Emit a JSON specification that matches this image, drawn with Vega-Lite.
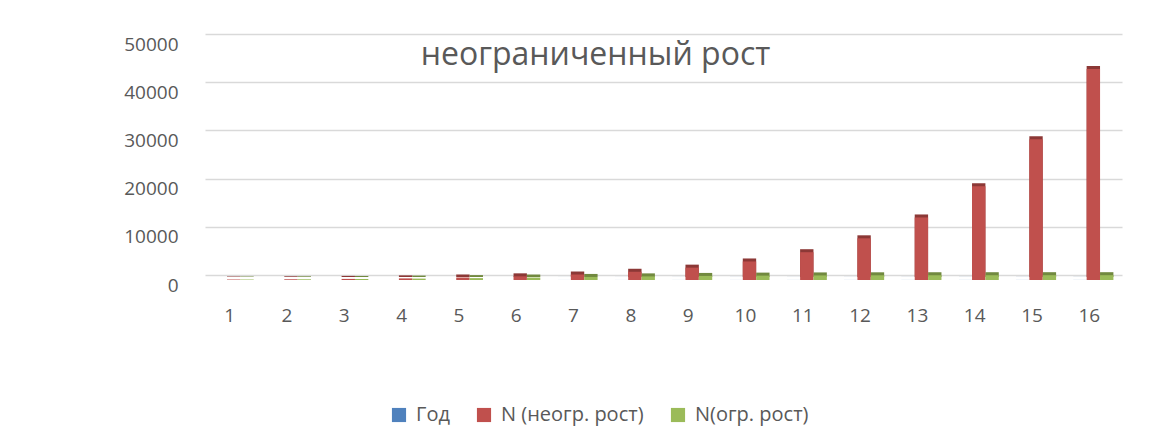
{
  "$schema": "https://vega.github.io/schema/vega-lite/v6.json",
  "autosize": {"type": "none"},
  "padding": {"left": 205, "top": 34, "right": 49, "bottom": 171},
  "width": 917,
  "height": 241,
  "background": "white",
  "title": {
    "text": "неограниченный рост",
    "font": "Open Sans",
    "fontSize": 32,
    "fontWeight": "normal",
    "color": "#595959",
    "anchor": "middle",
    "dx": -68,
    "offset": -63,
    "baseline": "alphabetic"
  },
  "data": {
    "values": [
      {"year": 1, "series": "Год", "value": 1},
      {"year": 2, "series": "Год", "value": 2},
      {"year": 3, "series": "Год", "value": 3},
      {"year": 4, "series": "Год", "value": 4},
      {"year": 5, "series": "Год", "value": 5},
      {"year": 6, "series": "Год", "value": 6},
      {"year": 7, "series": "Год", "value": 7},
      {"year": 8, "series": "Год", "value": 8},
      {"year": 9, "series": "Год", "value": 9},
      {"year": 10, "series": "Год", "value": 10},
      {"year": 11, "series": "Год", "value": 11},
      {"year": 12, "series": "Год", "value": 12},
      {"year": 13, "series": "Год", "value": 13},
      {"year": 14, "series": "Год", "value": 14},
      {"year": 15, "series": "Год", "value": 15},
      {"year": 16, "series": "Год", "value": 16},
      {"year": 1, "series": "N (неогр. рост)", "value": 100},
      {"year": 2, "series": "N (неогр. рост)", "value": 150},
      {"year": 3, "series": "N (неогр. рост)", "value": 225},
      {"year": 4, "series": "N (неогр. рост)", "value": 337.5},
      {"year": 5, "series": "N (неогр. рост)", "value": 506.25},
      {"year": 6, "series": "N (неогр. рост)", "value": 759.38},
      {"year": 7, "series": "N (неогр. рост)", "value": 1139.06},
      {"year": 8, "series": "N (неогр. рост)", "value": 1708.59},
      {"year": 9, "series": "N (неогр. рост)", "value": 2562.89},
      {"year": 10, "series": "N (неогр. рост)", "value": 3844.34},
      {"year": 11, "series": "N (неогр. рост)", "value": 5766.5},
      {"year": 12, "series": "N (неогр. рост)", "value": 8649.76},
      {"year": 13, "series": "N (неогр. рост)", "value": 12974.63},
      {"year": 14, "series": "N (неогр. рост)", "value": 19461.95},
      {"year": 15, "series": "N (неогр. рост)", "value": 29192.93},
      {"year": 16, "series": "N (неогр. рост)", "value": 43789.39},
      {"year": 1, "series": "N(огр. рост)", "value": 100},
      {"year": 2, "series": "N(огр. рост)", "value": 145},
      {"year": 3, "series": "N(огр. рост)", "value": 207},
      {"year": 4, "series": "N(огр. рост)", "value": 289},
      {"year": 5, "series": "N(огр. рост)", "value": 392},
      {"year": 6, "series": "N(огр. рост)", "value": 511},
      {"year": 7, "series": "N(огр. рост)", "value": 636},
      {"year": 8, "series": "N(огр. рост)", "value": 752},
      {"year": 9, "series": "N(огр. рост)", "value": 845},
      {"year": 10, "series": "N(огр. рост)", "value": 910},
      {"year": 11, "series": "N(огр. рост)", "value": 951},
      {"year": 12, "series": "N(огр. рост)", "value": 974},
      {"year": 13, "series": "N(огр. рост)", "value": 987},
      {"year": 14, "series": "N(огр. рост)", "value": 993},
      {"year": 15, "series": "N(огр. рост)", "value": 997},
      {"year": 16, "series": "N(огр. рост)", "value": 998}
    ]
  },
  "encoding": {
    "x": {
      "field": "year",
      "type": "ordinal",
      "sort": "ascending",
      "scale": {"paddingInner": 0.3, "paddingOuter": 0.15},
      "axis": {
        "title": null,
        "domain": false,
        "ticks": false,
        "labelAngle": 0,
        "labelFont": "Open Sans",
        "labelFontSize": 19,
        "labelColor": "#595959",
        "labelPadding": 31,
        "labelOffset": -4
      }
    },
    "xOffset": {
      "field": "series",
      "type": "nominal",
      "sort": ["Год", "N (неогр. рост)", "N(огр. рост)"],
      "scale": {"paddingInner": 0, "paddingOuter": 0}
    },
    "y": {
      "field": "value",
      "type": "quantitative",
      "scale": {"domain": [0, 50000], "nice": false},
      "axis": {
        "title": null,
        "domain": false,
        "ticks": false,
        "values": [0, 10000, 20000, 30000, 40000, 50000],
        "format": "d",
        "labelFont": "Open Sans",
        "labelFontSize": 19,
        "labelColor": "#595959",
        "labelPadding": 27,
        "labelOffset": 10,
        "grid": true,
        "gridColor": "#D9D9D9",
        "gridWidth": 1.3
      }
    }
  },
  "layer": [
    {
      "mark": {"type": "bar", "xOffset": 3, "yOffset": 2, "clip": false},
      "encoding": {
        "color": {
          "field": "series",
          "type": "nominal",
          "scale": {
            "domain": ["Год", "N (неогр. рост)", "N(огр. рост)"],
            "range": ["#385D8A", "#8C3836", "#71893F"]
          },
          "legend": null
        }
      }
    },
    {
      "mark": {"type": "bar", "yOffset": 5, "clip": false},
      "encoding": {
        "color": {
          "field": "series",
          "type": "nominal",
          "scale": {
            "domain": ["Год", "N (неогр. рост)", "N(огр. рост)"],
            "range": ["#4F81BD", "#C0504D", "#9BBB59"]
          },
          "legend": {
            "title": null,
            "orient": "none",
            "direction": "horizontal",
            "legendX": 184,
            "legendY": 371,
            "symbolType": "square",
            "symbolSize": 200,
            "symbolStrokeWidth": 0,
            "labelFont": "Open Sans",
            "labelFontSize": 20,
            "labelColor": "#595959",
            "labelOffset": 7,
            "columnPadding": 24,
            "padding": 0
          }
        }
      }
    }
  ],
  "resolve": {"scale": {"color": "independent"}},
  "config": {
    "view": {"stroke": null},
    "axis": {"labelFont": "Open Sans"}
  }
}
